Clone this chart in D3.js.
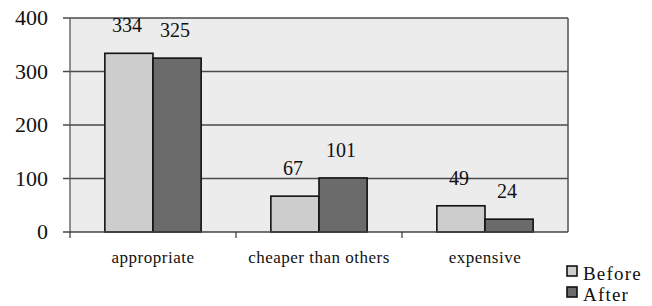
<!DOCTYPE html>
<html>
<head>
<meta charset="utf-8">
<script src="https://cdn.jsdelivr.net/npm/d3@7"></script>
<style>
  body { margin: 0; background: #fff; }
  text { font-family: "Liberation Serif", "Times New Roman", serif; fill: #111; }
</style>
</head>
<body>
<svg id="chart" width="652" height="306"></svg>
<script>
// Chart data.
const categories = ["appropriate", "cheaper than others", "expensive"];
const seriesNames = ["Before", "After"];
const beforeValues = [334, 67, 49];
const afterValues = [325, 101, 24];
const yTicks = [0, 100, 200, 300, 400];

const colors = { Before: "#cdcdcd", After: "#6b6b6b" };

const margin = { left: 70, right: 84, top: 18, bottom: 74 };
const width = 652, height = 306;
const plotW = width - margin.left - margin.right;
const plotH = height - margin.top - margin.bottom;

const svg = d3.select("#chart");
const g = svg.append("g")
  .attr("transform", `translate(${margin.left},${margin.top})`);

const x0 = d3.scaleBand()
  .domain(categories)
  .range([0, plotW])
  .paddingInner(0.42)
  .paddingOuter(0.21);

const x1 = d3.scaleBand()
  .domain(seriesNames)
  .range([0, x0.bandwidth()]);

const y = d3.scaleLinear()
  .domain([0, 400])
  .range([plotH, 0]);

// Plot background.
g.append("rect")
  .attr("width", plotW)
  .attr("height", plotH)
  .attr("fill", "#ececec");

// Gridlines (with tick stubs to the left).
g.selectAll("line.grid")
  .data(yTicks.filter(d => d > 0))
  .enter()
  .append("line")
    .attr("class", "grid")
    .attr("x1", -7)
    .attr("x2", plotW)
    .attr("y1", d => y(d))
    .attr("y2", d => y(d))
    .attr("stroke", "#4a4a4a")
    .attr("stroke-width", 1.3);

// Right border.
g.append("line")
  .attr("x1", plotW).attr("x2", plotW)
  .attr("y1", 0).attr("y2", plotH)
  .attr("stroke", "#555")
  .attr("stroke-width", 1.5);

// Left axis.
g.append("line")
  .attr("x1", 0).attr("x2", 0)
  .attr("y1", 0).attr("y2", plotH)
  .attr("stroke", "#555")
  .attr("stroke-width", 1.3);

// Y tick labels.
g.selectAll("text.ytick")
  .data(yTicks)
  .enter()
  .append("text")
    .attr("class", "ytick")
    .attr("x", -22)
    .attr("y", d => y(d) + 7)
    .attr("text-anchor", "end")
    .style("font-size", "22px")
    .text(d => d);

// Bars.
const rows = categories.map((c, i) => ({
  category: c,
  values: [
    { key: "Before", value: beforeValues[i] },
    { key: "After", value: afterValues[i] },
  ],
}));

const groups = g.selectAll("g.cat")
  .data(rows)
  .enter()
  .append("g")
    .attr("class", "cat")
    .attr("transform", d => `translate(${x0(d.category)},0)`);

groups.selectAll("rect")
  .data(d => d.values)
  .enter()
  .append("rect")
    .attr("x", d => x1(d.key))
    .attr("y", d => y(d.value))
    .attr("width", x1.bandwidth())
    .attr("height", d => plotH - y(d.value))
    .attr("fill", d => colors[d.key])
    .attr("stroke", "#111")
    .attr("stroke-width", 1.6);

groups.selectAll("text.val")
  .data(d => d.values)
  .enter()
  .append("text")
    .attr("class", "val")
    .attr("x", d => x1(d.key) + x1.bandwidth() / 2 - 2)
    .attr("y", d => y(d.value) - 21)
    .attr("text-anchor", "middle")
    .style("font-size", "20px")
    .text(d => d.value);

// Bottom axis line and category boundary ticks.
g.append("line")
  .attr("x1", -7).attr("x2", plotW)
  .attr("y1", plotH).attr("y2", plotH)
  .attr("stroke", "#444")
  .attr("stroke-width", 1.5);

const step = x0.step();
g.selectAll("line.xtick")
  .data(d3.range(categories.length))
  .enter()
  .append("line")
    .attr("class", "xtick")
    .attr("x1", i => i * step)
    .attr("x2", i => i * step)
    .attr("y1", plotH)
    .attr("y2", plotH + 6)
    .attr("stroke", "#444")
    .attr("stroke-width", 1.3);

// Category labels.
g.selectAll("text.cat")
  .data(categories)
  .enter()
  .append("text")
    .attr("class", "cat")
    .attr("x", d => x0(d) + x0.bandwidth() / 2)
    .attr("y", plotH + 31)
    .attr("text-anchor", "middle")
    .style("font-size", "17px")
    .style("letter-spacing", "0.5px")
    .text(d => d);

// Legend.
const legend = svg.append("g")
  .attr("transform", "translate(567,266)");

const items = legend.selectAll("g")
  .data(seriesNames)
  .enter()
  .append("g")
    .attr("transform", (d, i) => `translate(0,${i * 21})`);

items.append("rect")
  .attr("width", 10)
  .attr("height", 10)
  .attr("fill", d => colors[d])
  .attr("stroke", "#111")
  .attr("stroke-width", 1.6);

items.append("text")
  .attr("x", 16)
  .attr("y", 14)
  .style("font-size", "19px")
  .style("letter-spacing", "1.2px")
  .text(d => d);
</script>
</body>
</html>
